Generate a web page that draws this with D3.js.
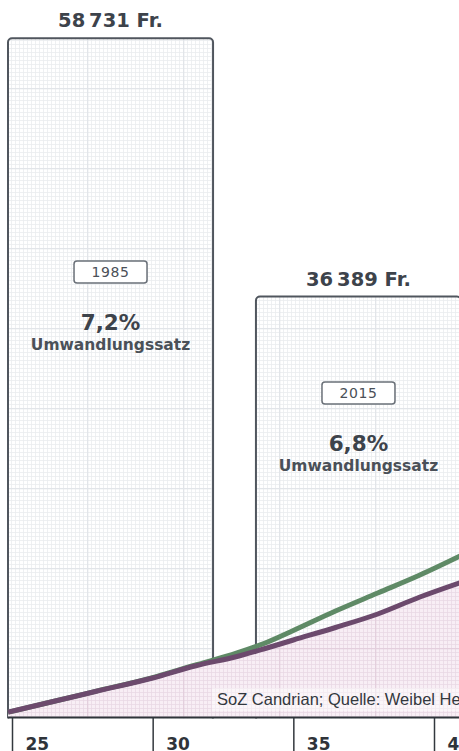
<!DOCTYPE html>
<html lang="de">
<head>
    <meta charset="UTF-8">
    <title>Umwandlungssatz 1985 / 2015</title>
    <script src="https://cdnjs.cloudflare.com/ajax/libs/d3/7.8.5/d3.min.js"></script>
    <style>
        html, body { margin: 0; padding: 0; background: #fff; overflow: hidden; }
        svg { display: block; }
    </style>
</head>
<body>
    <div id="chart"></div>

    <script>
        // Renten pro Jahr (Balken)
        const jahre = ["1985", "2015"];
        const renten = [58731, 36389];
        const umwandlungssaetze = [0.072, 0.068];

        // Altersguthaben-Kurven
        const alter = [24.86, 26.5, 28, 30, 31.5, 33, 34, 35, 36.5, 38, 39.5, 41];
        const guthabenGruen = [460, 1400, 2280, 3450, 4520, 5577, 6441, 7522, 9208, 10764, 12320, 14050];
        const guthabenViolett = [460, 1400, 2265, 3415, 4453, 5274, 5966, 6700, 7781, 8949, 10418, 11715];

        const tickAlter = [25, 30, 35, 40];
        const quelle = "SoZ Candrian; Quelle: Weibel Hess & Partner";

        const width = 459;
        const height = 751;
        const baseY = 717.5;
        const annoTop = { "1985": 261, "2015": 382 };

        const loc = d3.formatLocale({ decimal: ",", thousands: "\u2009", grouping: [3], currency: ["", " Fr."] });
        const fmtFr = loc.format("$,");
        const fmtPct = loc.format(".1%");

        const x = d3.scaleLinear().domain([25, 40]).range([12, 434]);
        const y = d3.scaleLinear().domain([0, 60000]).range([baseY, baseY - 60000 * 0.011566]);
        const xb = d3.scaleBand().domain(jahre).range([8, 461]).paddingInner(0.173).paddingOuter(0);

        const svg = d3.select("#chart").append("svg")
            .attr("width", width)
            .attr("height", height);

        const defs = svg.append("defs");

        function gridPattern(id, bg, minor, major) {
            const p = defs.append("pattern")
                .attr("id", id)
                .attr("patternUnits", "userSpaceOnUse")
                .attr("x", -9).attr("y", 8)
                .attr("width", 96).attr("height", 80);
            p.append("rect").attr("width", 96).attr("height", 80).attr("fill", bg);
            let d = "";
            for (let i = 0; i <= 96; i += 4) d += `M${i + 0.5},0V80`;
            for (let j = 0; j <= 80; j += 4) d += `M0,${j + 0.5}H96`;
            p.append("path").attr("d", d).attr("stroke", minor).attr("stroke-width", 0.8).attr("fill", "none");
            p.append("path").attr("d", "M0.5,0V80M0,0.5H96")
                .attr("stroke", major).attr("stroke-width", 1.6).attr("fill", "none");
        }
        gridPattern("gridGrau", "#ffffff", "#eaecef", "#e2e5e9");
        gridPattern("gridRosa", "#f8eef5", "#e9d8e5", "#e3cfdd");

        const bars = jahre.map((j, i) => ({ jahr: j, rente: renten[i], satz: umwandlungssaetze[i] }));

        // Balken
        svg.append("g")
            .selectAll("rect")
            .data(bars)
            .join("rect")
            .attr("x", d => xb(d.jahr))
            .attr("y", d => y(d.rente))
            .attr("width", xb.bandwidth())
            .attr("height", d => y(0) - y(d.rente) + 4)
            .attr("rx", 4)
            .attr("fill", "url(#gridGrau)")
            .attr("stroke", "#50565e")
            .attr("stroke-width", 2);

        // Beträge über den Balken
        svg.append("g")
            .selectAll("text")
            .data(bars)
            .join("text")
            .attr("x", d => xb(d.jahr) + xb.bandwidth() / 2)
            .attr("y", d => y(d.rente) - 11)
            .attr("text-anchor", "middle")
            .attr("font-family", "DejaVu Sans")
            .attr("font-weight", "bold")
            .attr("font-size", 19.5)
            .attr("fill", "#3d434b")
            .text(d => fmtFr(d.rente));

        // Fläche unter der Kurve
        const pts = (arr) => alter.map((a, i) => ({ a: a, v: arr[i] }));
        svg.append("path")
            .datum(pts(guthabenViolett))
            .attr("fill", "url(#gridRosa)")
            .attr("d", d3.area().x(d => x(d.a)).y0(y(0)).y1(d => y(d.v)).curve(d3.curveMonotoneX));

        // Quelle
        svg.append("rect")
            .attr("x", 212).attr("y", 688).attr("width", 260).attr("height", 23)
            .attr("fill", "#ffffff").attr("opacity", 0.45);
        svg.append("text")
            .attr("x", 217)
            .attr("y", 705)
            .attr("font-family", "Liberation Sans, Arial")
            .attr("font-size", 16.5)
            .attr("fill", "#33383e")
            .text(quelle);

        // Kurven
        const line = d3.line().x(d => x(d.a)).y(d => y(d.v)).curve(d3.curveMonotoneX);
        svg.append("path")
            .datum(pts(guthabenGruen))
            .attr("fill", "none")
            .attr("stroke", "#5f8a66")
            .attr("stroke-width", 5)
            .attr("d", line);
        svg.append("path")
            .datum(pts(guthabenViolett))
            .attr("fill", "none")
            .attr("stroke", "#6c4a6d")
            .attr("stroke-width", 5)
            .attr("d", line);

        // Annotationen in den Balken
        const anno = svg.append("g")
            .selectAll("g")
            .data(bars)
            .join("g")
            .attr("transform", d => `translate(${xb(d.jahr) + xb.bandwidth() / 2},${annoTop[d.jahr]})`);

        anno.append("rect")
            .attr("x", -36.5).attr("y", 0)
            .attr("width", 73).attr("height", 22)
            .attr("rx", 3)
            .attr("fill", "#fff")
            .attr("stroke", "#6a7078")
            .attr("stroke-width", 1.5);
        anno.append("text")
            .attr("y", 16)
            .attr("text-anchor", "middle")
            .attr("font-family", "DejaVu Sans")
            .attr("font-size", 14)
            .attr("letter-spacing", 0.6)
            .attr("fill", "#4a5058")
            .text(d => d.jahr);
        anno.append("text")
            .attr("y", 69)
            .attr("text-anchor", "middle")
            .attr("font-family", "DejaVu Sans")
            .attr("font-weight", "bold")
            .attr("font-size", 21.5)
            .attr("fill", "#3d434b")
            .text(d => fmtPct(d.satz));
        anno.append("text")
            .attr("y", 89)
            .attr("text-anchor", "middle")
            .attr("font-family", "DejaVu Sans")
            .attr("font-weight", "bold")
            .attr("font-size", 15.5)
            .attr("fill", "#4a5058")
            .text("Umwandlungssatz");

        // Achse
        svg.append("rect")
            .attr("x", 0).attr("y", baseY + 1).attr("width", width).attr("height", height - baseY)
            .attr("fill", "#fff");

        const axis = svg.append("g")
            .attr("transform", `translate(0,${baseY})`)
            .call(d3.axisBottom(x).tickValues(tickAlter).tickSize(40).tickSizeOuter(0).tickFormat(d3.format("d")));
        axis.select(".domain").remove();
        axis.selectAll(".tick line").attr("stroke", "#33383e").attr("stroke-width", 1.5);
        axis.selectAll(".tick text")
            .attr("x", 13)
            .attr("y", 32.5)
            .attr("dy", 0)
            .attr("text-anchor", "start")
            .attr("font-family", "DejaVu Sans")
            .attr("font-weight", "bold")
            .attr("font-size", 17)
            .attr("fill", "#2f343a");

        svg.append("line")
            .attr("x1", x(alter[0]))
            .attr("x2", width)
            .attr("y1", baseY)
            .attr("y2", baseY)
            .attr("stroke", "#2f343a")
            .attr("stroke-width", 2);
    </script>
</body>
</html>
